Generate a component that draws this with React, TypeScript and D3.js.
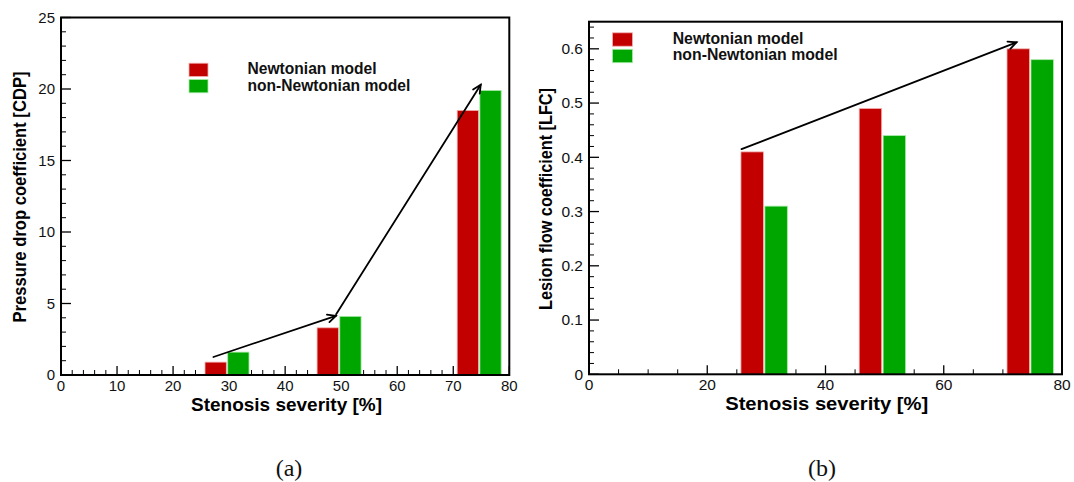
import React from 'react';
import * as d3 from 'd3';

// Stenosis severity categories (%) and coefficient values per blood model
const severity = [30, 50, 75];
const cdpNewtonian = [0.9, 3.3, 18.5];
const cdpNonNewtonian = [1.6, 4.1, 19.9];
const lfcNewtonian = [0.41, 0.49, 0.6];
const lfcNonNewtonian = [0.31, 0.44, 0.58];

// Axis tick labels
const cdpTicks = [0, 5, 10, 15, 20, 25];
const lfcTicks = [0, 0.1, 0.2, 0.3, 0.4, 0.5, 0.6];
const severityTicksA = [0, 10, 20, 30, 40, 50, 60, 70, 80];
const severityTicksB = [0, 20, 40, 60, 80];

// Trend arrows, in data coordinates [severity, coefficient]
const cdpTrend = [
  [[27.2, 1.26], [49.05, 4.14]],
  [[49.1, 4.25], [74.9, 20.3]],
];
const lfcTrend = [[[25.8, 0.415], [72.3, 0.612]]];

const seriesNames = ['Newtonian model', 'non-Newtonian model'];
const seriesColors = ['#c20000', '#00a600'];
const seriesEdges = ['#f2b0b0', '#a8eaa8'];

const SANS = '"Liberation Sans", Arial, Helvetica, sans-serif';
const SERIF = '"Liberation Serif", "Times New Roman", serif';

type Cfg = {
  xRange: [number, number];
  yRange: [number, number];
  yMax: number;
  yTicks: number[];
  yMinor: number;
  xTicks: number[];
  xMinor: number;
  tickFont: number;
  tickBaseline: number;
  yTitle: string;
  yTitleX: number;
  yTitleY: number;
  yTitleLen: number;
  xTitleX: number;
  xTitleY: number;
  xTitleLen: number;
  titleFont: number;
  legendX: number;
  legendW: number;
  legendY: [number, number];
  legendH: number;
  legendTextX: number;
  legendBase: [number, number];
  legendFont: number;
  newtonian: number[];
  nonNewtonian: number[];
  trend: number[][][];
  panelLabel: string;
  panelLabelX: number;
};

function Arrow({ x1, y1, x2, y2 }: { x1: number; y1: number; x2: number; y2: number }) {
  const a = Math.atan2(y2 - y1, x2 - x1);
  const len = 9;
  const spread = 0.45;
  const p1 = [x2 - len * Math.cos(a - spread), y2 - len * Math.sin(a - spread)];
  const p2 = [x2 - len * Math.cos(a + spread), y2 - len * Math.sin(a + spread)];
  return (
    <g stroke="#000" strokeWidth={1.8} fill="none" strokeLinecap="round">
      <line x1={x1} y1={y1} x2={x2} y2={y2} />
      <polyline points={`${p1[0]},${p1[1]} ${x2},${y2} ${p2[0]},${p2[1]}`} />
    </g>
  );
}

function Panel({ c }: { c: Cfg }) {
  const x = d3.scaleLinear().domain([0, 80]).range(c.xRange);
  const y = d3.scaleLinear().domain([0, c.yMax]).range(c.yRange);
  const [x0, x1] = c.xRange;
  const [y0, y1] = c.yRange;
  const fmt = (v: number) => (v === 0 ? '0' : d3.format('~g')(v));

  const xMinorTicks = d3.range(0, 80 + 1e-9, c.xMinor).filter(
    (v) => !c.xTicks.some((t) => Math.abs(t - v) < 1e-9)
  );
  const yMinorTicks = d3.range(0, c.yMax + 1e-9, c.yMinor).filter(
    (v) => !c.yTicks.some((t) => Math.abs(t - v) < 1e-9)
  );

  const barW = 3.8;
  const series = [c.newtonian, c.nonNewtonian];
  const offsets = [-4.3, -0.25];

  return (
    <g>
      {/* ticks point into the plot area */}
      <g stroke="#000" strokeWidth={1.3}>
        {c.xTicks.map((t) => (
          <line key={'xt' + t} x1={x(t)} x2={x(t)} y1={y0} y2={y0 - 9} />
        ))}
        {xMinorTicks.map((t) => (
          <line key={'xm' + t} x1={x(t)} x2={x(t)} y1={y0} y2={y0 - 5} strokeWidth={1} />
        ))}
        {c.yTicks.map((t) => (
          <line key={'yt' + t} x1={x0} x2={x0 + 10} y1={y(t)} y2={y(t)} />
        ))}
        {yMinorTicks.map((t) => (
          <line key={'ym' + t} x1={x0} x2={x0 + 5} y1={y(t)} y2={y(t)} strokeWidth={1} />
        ))}
      </g>

      {/* bars */}
      {series.map((vals, si) =>
        vals.map((v, i) => {
          const left = x(severity[i] + offsets[si]);
          const right = x(severity[i] + offsets[si] + barW);
          return (
            <rect
              key={`b${si}-${i}`}
              x={left}
              y={y(v)}
              width={right - left}
              height={y(0) - y(v)}
              fill={seriesColors[si]}
              stroke={seriesEdges[si]}
              strokeWidth={0.8}
            />
          );
        })
      )}

      {/* frame */}
      <rect x={x0} y={y1} width={x1 - x0} height={y0 - y1} fill="none" stroke="#000" strokeWidth={2} />

      {/* trend arrows */}
      {c.trend.map((seg, i) => (
        <Arrow key={'ar' + i} x1={x(seg[0][0])} y1={y(seg[0][1])} x2={x(seg[1][0])} y2={y(seg[1][1])} />
      ))}

      {/* tick labels */}
      <g fontFamily={SANS} fontSize={c.tickFont} fill="#111">
        {c.xTicks.map((t) => (
          <text key={'xl' + t} x={x(t)} y={c.tickBaseline} textAnchor="middle">
            {fmt(t)}
          </text>
        ))}
        {c.yTicks.map((t) => (
          <text key={'yl' + t} x={x0 - 6} y={y(t)} dy="0.35em" textAnchor="end">
            {fmt(t)}
          </text>
        ))}
      </g>

      {/* axis titles */}
      <text
        x={c.xTitleX}
        y={c.xTitleY}
        textAnchor="middle"
        fontFamily={SANS}
        fontWeight="bold"
        fontSize={c.titleFont}
        textLength={c.xTitleLen}
        lengthAdjust="spacingAndGlyphs"
      >
        Stenosis severity [%]
      </text>
      <text
        transform={`translate(${c.yTitleX},${c.yTitleY}) rotate(-90)`}
        textAnchor="middle"
        fontFamily={SANS}
        fontWeight="bold"
        fontSize={c.titleFont}
        textLength={c.yTitleLen}
        lengthAdjust="spacingAndGlyphs"
      >
        {c.yTitle}
      </text>

      {/* legend */}
      {seriesNames.map((name, i) => (
        <g key={'lg' + i}>
          <rect
            x={c.legendX}
            y={c.legendY[i]}
            width={c.legendW}
            height={c.legendH}
            fill={seriesColors[i]}
            stroke={seriesEdges[i]}
            strokeWidth={0.8}
          />
          <text
            x={c.legendTextX}
            y={c.legendBase[i]}
            fontFamily={SANS}
            fontWeight="bold"
            fontSize={c.legendFont}
            fill="#111"
          >
            {name}
          </text>
        </g>
      ))}

      {/* panel label */}
      <text x={c.panelLabelX} y={476} textAnchor="middle" fontFamily={SERIF} fontSize={24} fill="#111">
        {c.panelLabel}
      </text>
    </g>
  );
}

const panelA: Cfg = {
  xRange: [61, 509.3],
  yRange: [375, 17.5],
  yMax: 25,
  yTicks: cdpTicks,
  yMinor: 1,
  xTicks: severityTicksA,
  xMinor: 2,
  tickFont: 15,
  tickBaseline: 390.5,
  yTitle: 'Pressure drop coefficient [CDP]',
  yTitleX: 25.5,
  yTitleY: 197,
  yTitleLen: 251,
  xTitleX: 286.5,
  xTitleY: 411,
  xTitleLen: 191,
  titleFont: 18.5,
  legendX: 189,
  legendW: 19,
  legendY: [63.2, 79.5],
  legendH: 13.3,
  legendTextX: 247.5,
  legendBase: [74.3, 90.7],
  legendFont: 15.6,
  newtonian: cdpNewtonian,
  nonNewtonian: cdpNonNewtonian,
  trend: cdpTrend,
  panelLabel: '(a)',
  panelLabelX: 289,
};

const panelB: Cfg = {
  xRange: [589, 1062],
  yRange: [374.3, 21.7],
  yMax: 0.65,
  yTicks: lfcTicks,
  yMinor: 0.02,
  xTicks: severityTicksB,
  xMinor: 5,
  tickFont: 15.5,
  tickBaseline: 389.6,
  yTitle: 'Lesion flow coefficient [LFC]',
  yTitleX: 552,
  yTitleY: 199,
  yTitleLen: 222,
  xTitleX: 826.7,
  xTitleY: 409.7,
  xTitleLen: 203,
  titleFont: 19,
  legendX: 612.5,
  legendW: 20,
  legendY: [32.8, 49.3],
  legendH: 13.4,
  legendTextX: 672.7,
  legendBase: [43.6, 60],
  legendFont: 15.8,
  newtonian: lfcNewtonian,
  nonNewtonian: lfcNonNewtonian,
  trend: lfcTrend,
  panelLabel: '(b)',
  panelLabelX: 822,
};

export default function App() {
  return (
    <svg
      width={1074}
      height={482}
      viewBox="0 0 1074 482"
      style={{ position: 'absolute', left: 0, top: 0, background: '#fff' }}
    >
      <rect width={1074} height={482} fill="#fff" />
      <Panel c={panelA} />
      <Panel c={panelB} />
    </svg>
  );
}
